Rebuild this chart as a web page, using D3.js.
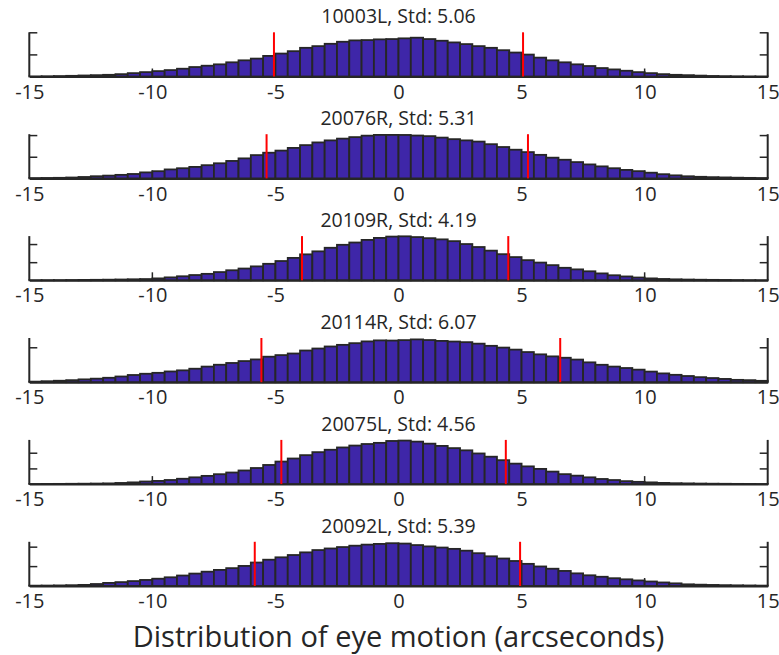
<!DOCTYPE html>
<html>
<head>
<meta charset="utf-8">
<script src="https://cdn.jsdelivr.net/npm/d3@7"></script>
<style>
  html, body { margin: 0; padding: 0; background: #fff; }
  svg { display: block; }
  text { font-family: "Open Sans", "Noto Sans", sans-serif; fill: #262626; }
</style>
</head>
<body>
<svg id="chart" width="779" height="655"></svg>
<script>
// ---- data ----
const binEdges = [-15,-14.5,-14,-13.5,-13,-12.5,-12,-11.5,-11,-10.5,-10,-9.5,-9,-8.5,-8,-7.5,-7,-6.5,-6,-5.5,
  -5,-4.5,-4,-3.5,-3,-2.5,-2,-1.5,-1,-0.5,0,0.5,1,1.5,2,2.5,3,3.5,4,4.5,
  5,5.5,6,6.5,7,7.5,8,8.5,9,9.5,10,10.5,11,11.5,12,12.5,13,13.5,14,14.5];
const binWidth = 0.5;

const subjects = ["10003L", "20076R", "20109R", "20114R", "20075L", "20092L"];
const stds = [5.06, 5.31, 4.19, 6.07, 4.56, 5.39];
const means = [0.0, -0.05, 0.27, 0.5, -0.2, -0.45];

// bar heights, in percent of each panel's y-range
const counts10003L = [0.3,0.6,1,1.5,2.3,3,3.8,5.3,7.6,9.9,12.2,14.5,17.6,21.4,24.4,27.5,32.1,36.6,40.5,46.6,
  51.9,57.3,64.9,68.7,74,78.6,81.7,82.4,84,84.7,86.3,87.8,84.7,80.9,77.1,73.3,68.7,64.9,59.5,54.2,
  49.6,42.7,36.6,32.1,27.5,23.7,19.1,16,13,9.9,7.6,5.3,3.8,3,2,1.2,0.8,0.5,0.3,0.2];
const counts20076R = [0.8,1.0,1.3,2.0,3.2,4.9,6.3,8.0,10.0,13.6,16.3,20.3,23.0,26.0,29.9,34.2,39.5,45.3,52.7,58.1,
  62.9,69,75.3,81.4,86,90,93.4,96.7,98.4,98.4,98.3,97,95.6,92.3,88.8,86,83.3,77.4,71,64.9,
  59.5,53.3,46.9,42.2,36.9,31.6,27.2,23,19.2,16.4,12.9,9.5,6.9,4.8,3.6,2.8,2.2,1.6,1.2,0.9];
const counts20109R = [0.3,0.4,0.5,0.7,0.9,1.1,1.4,1.8,2.3,2.8,4.3,6.6,9.1,11.9,14.6,18.6,22.7,26.6,31.5,37.3,
  43.6,50.7,58.7,65.5,73.6,80.3,85.5,91.4,95.9,98.9,99.5,97.8,95.3,92.6,88.6,82,75.3,67.1,59.1,52.5,
  45.6,40.1,34.3,28.3,24.7,20.4,15.6,11.4,8.7,6.3,4.3,3.0,2.2,1.7,1.3,1.0,0.8,0.6,0.4,0.3];
const counts20114R = [1.3,2.2,3.3,4.6,6.4,8.0,10.0,12.9,16.3,19.1,21.2,24.3,26.8,30.5,35.3,39.5,43.5,47.8,51.5,57.7,
  61.3,64.9,71.7,76.2,80.8,84.5,88.3,92.3,94.6,94.2,95.2,96.8,95.4,93.4,92,90.6,87.2,82.3,78.3,73.7,
  68.2,63,58.4,55.3,51.2,44.9,39.4,35.3,32.1,28.4,24,19.9,16.7,14,11.4,9.4,7.4,5.3,4.6,3.1];
const counts20075L = [0.3,0.4,0.5,0.7,0.9,1.2,1.6,2.6,3.9,5.9,7.2,9.3,12.1,15.3,18.6,22.4,26.2,30.8,36.4,43.3,
  51,57.9,65.5,72.3,77.7,82.9,87.2,90.7,93.3,97.6,98.5,96.1,91.5,86.4,81.4,76.4,69.3,62,54.1,46.3,
  40.1,34.4,28.3,22.5,19.1,15.3,11.6,9.2,6.7,5.1,3.9,2.7,2.0,1.6,1.2,0.9,0.7,0.5,0.4,0.3];
const counts20092L = [0.8,1.0,1.3,1.8,2.5,4.5,7.0,8.8,11.1,13.7,16.5,19.7,23.7,28.1,32.4,36.4,40.4,45.4,53.1,59.5,
  64.9,70.1,76.1,81.3,84.9,88.1,91.2,93.6,95.2,96.8,96,92.6,89.6,87,84,79.9,74.2,67.2,62.2,56.6,
  50.1,44.2,39.1,34.1,28.6,24.2,20.9,17.6,15.1,12.6,10.2,8,6,3.8,3.0,2.4,1.9,1.5,1.2,0.9];
const seriesValues = [counts10003L, counts20076R, counts20109R, counts20114R, counts20075L, counts20092L];

// y tick positions (same units) for each panel
const yTicks = [[50, 100], [49, 98], [41, 82], [79], [35.5, 71], [45, 89]];
const xTicks = [-15, -10, -5, 0, 5, 10, 15];
const xLabel = "Distribution of eye motion (arcseconds)";

// ---- layout ----
const svg = d3.select("#chart");
const left = 29.3, right = 767.7;
const firstTop = 32.3, panelStep = 101.9, panelH = 44.2;
const tickLen = 8;
const axisColor = "#262626";
const barFill = "rgb(62,38,168)";

const x = d3.scaleLinear().domain([-15, 15]).range([left, right]);

subjects.forEach((name, i) => {
  const top = firstTop + i * panelStep;
  const bottom = top + panelH;
  const y = d3.scaleLinear().domain([0, 100]).range([bottom, top]);
  const g = svg.append("g");

  // x ticks (drawn under bars)
  g.append("g").selectAll("line").data(xTicks.slice(1, -1)).join("line")
    .attr("x1", d => x(d)).attr("x2", d => x(d))
    .attr("y1", bottom).attr("y2", bottom - tickLen)
    .attr("stroke", axisColor).attr("stroke-width", 1.5);

  // bars
  const vals = seriesValues[i];
  g.append("g").selectAll("rect").data(binEdges).join("rect")
    .attr("x", d => x(d))
    .attr("width", d => x(d + binWidth) - x(d))
    .attr("y", (d, k) => y(vals[k]))
    .attr("height", (d, k) => y(0) - y(vals[k]))
    .attr("fill", barFill)
    .attr("stroke", axisColor)
    .attr("stroke-width", 1.8);

  // bottom axis
  const xAxis = d3.axisBottom(x).tickValues(xTicks).tickSize(0).tickPadding(8)
    .tickFormat(d3.format("d"));
  const ax = g.append("g").attr("transform", `translate(0,${bottom})`).call(xAxis);
  ax.select(".domain").attr("stroke", axisColor).attr("stroke-width", 2);
  ax.selectAll("text").attr("font-size", 20).attr("fill", axisColor)
    .attr("font-family", "'Open Sans', sans-serif")
    .text(d => (d < 0 ? "-" + Math.abs(d) : d));

  // left and right axes with inward ticks
  const yl = d3.axisRight(y).tickValues(yTicks[i]).tickSize(tickLen).tickFormat("");
  const la = g.append("g").attr("transform", `translate(${left},0)`).call(yl);
  la.select(".domain").attr("d", `M0,${top}V${bottom}`).attr("stroke", axisColor).attr("stroke-width", 2);
  la.selectAll(".tick line").attr("stroke", axisColor).attr("stroke-width", 1.5);

  const yr = d3.axisLeft(y).tickValues(yTicks[i]).tickSize(tickLen).tickFormat("");
  const ra = g.append("g").attr("transform", `translate(${right},0)`).call(yr);
  ra.select(".domain").attr("d", `M0,${top}V${bottom}`).attr("stroke", axisColor).attr("stroke-width", 2);
  ra.selectAll(".tick line").attr("stroke", axisColor).attr("stroke-width", 1.5);

  // red mean ± std lines
  g.append("g").selectAll("line").data([means[i] - stds[i], means[i] + stds[i]]).join("line")
    .attr("x1", d => x(d)).attr("x2", d => x(d))
    .attr("y1", bottom).attr("y2", top)
    .attr("stroke", "#ff0000").attr("stroke-width", 2);

  // title
  g.append("text")
    .attr("x", (left + right) / 2).attr("y", top - 9)
    .attr("text-anchor", "middle").attr("font-size", 19.5)
    .text(`${name}, Std: ${stds[i].toFixed(2)}`);
});

svg.append("text")
  .attr("x", (left + right) / 2).attr("y", 647)
  .attr("text-anchor", "middle").attr("font-size", 29)
  .text(xLabel);
</script>
</body>
</html>
